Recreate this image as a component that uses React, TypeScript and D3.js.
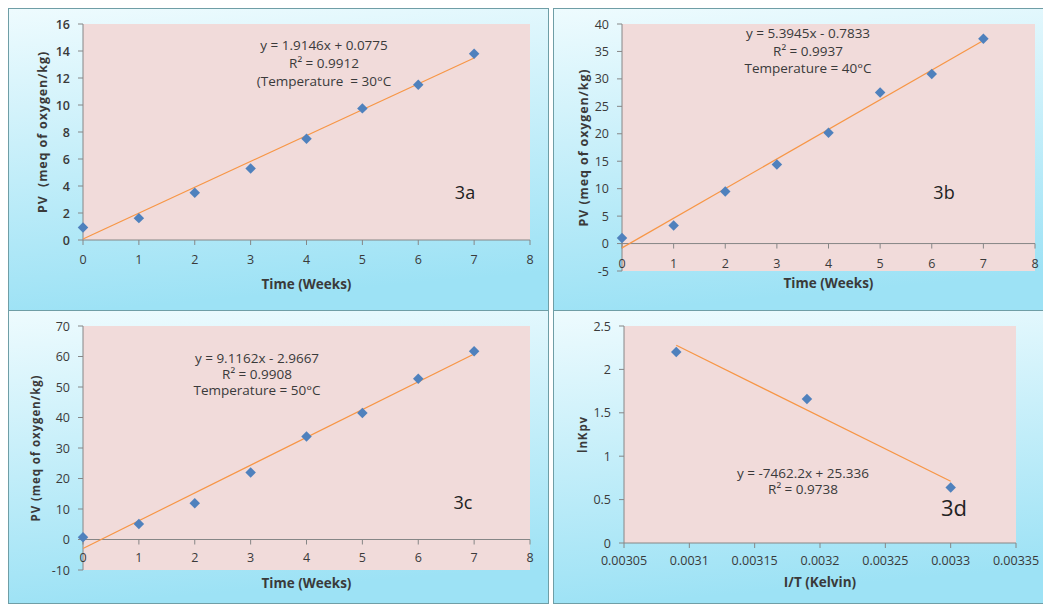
import React from 'react';
import * as d3 from 'd3';

// values
const weeks = [0, 1, 2, 3, 4, 5, 6, 7];
const pv30 = [0.92, 1.62, 3.5, 5.3, 7.5, 9.75, 11.5, 13.8];
const pv40 = [1.0, 3.3, 9.5, 14.4, 20.2, 27.5, 30.9, 37.3];
const pv50 = [0.75, 5.1, 11.9, 22.0, 33.8, 41.5, 52.7, 61.7];
const invT = [0.00309, 0.00319, 0.0033];
const lnKpv = [2.2, 1.66, 0.64];

const weekTicks = [0, 1, 2, 3, 4, 5, 6, 7, 8];
const pv30Ticks = [0, 2, 4, 6, 8, 10, 12, 14, 16];
const pv40Ticks = [-5, 0, 5, 10, 15, 20, 25, 30, 35, 40];
const pv50Ticks = [-10, 0, 10, 20, 30, 40, 50, 60, 70];
const invTTicks = [0.00305, 0.0031, 0.00315, 0.0032, 0.00325, 0.0033, 0.00335];
const invTTickLabels = ['0.00305', '0.0031', '0.00315', '0.0032', '0.00325', '0.0033', '0.00335'];
const lnKpvTicks = [0, 0.5, 1, 1.5, 2, 2.5];

const trendSlopes = [1.9146, 5.3945, 9.1162, -7462.2];
const trendIntercepts = [0.0775, -0.7833, -2.9667, 25.336];
const equationLines = [
  ['y = 1.9146x + 0.0775', 'R² = 0.9912', '(Temperature\u00a0 = 30°C'],
  ['y = 5.3945x - 0.7833', 'R² = 0.9937', 'Temperature = 40°C'],
  ['y = 9.1162x - 2.9667', 'R² = 0.9908', 'Temperature = 50°C'],
  ['y = -7462.2x + 25.336', 'R² = 0.9738'],
];
const panelTags = ['3a', '3b', '3c', '3d'];
const yTitles = ['PV\u00a0 (meq of oxygen/kg)', 'PV (meq of oxygen/kg)', 'PV (meq of oxygen/kg)', 'lnKpv'];
const xTitles = ['Time (Weeks)', 'Time (Weeks)', 'Time (Weeks)', 'I/T (Kelvin)'];

const FONT = '"Open Sans", "Liberation Sans", sans-serif';
const AXIS = '#868686';
const TEXT = '#3a3a3a';

interface PanelProps {
  idx: number;
  frame: { x: number; y: number; w: number; h: number };
  plot: { x0: number; x1: number; y0: number; y1: number };
  xDomain: [number, number];
  yDomain: [number, number];
  xs: number[];
  ys: number[];
  xTicks: number[];
  xTickLabels?: string[];
  yTicks: number[];
  trendRange: [number, number];
  eqPos: { x: number; y: number; step: number };
  tagPos: { x: number; y: number; size: number };
  yTitleX: number;
  xTitleY: number;
  yTitleSize: number;
  yTickWeight: number;
  xLabelOffset: number;
}

function Panel(p: PanelProps) {
  const x = d3.scaleLinear().domain(p.xDomain).range([p.plot.x0, p.plot.x1]);
  const y = d3.scaleLinear().domain(p.yDomain).range([p.plot.y1, p.plot.y0]);
  const axisY = y(Math.max(0, p.yDomain[0]));
  const diamond = d3.symbol(d3.symbolDiamond2, 70)();
  const slope = trendSlopes[p.idx];
  const icpt = trendIntercepts[p.idx];
  const trend = d3.line<number>()
    .x(v => x(v))
    .y(v => y(slope * v + icpt));
  const gid = `bg${p.idx}`;
  const cx = (p.plot.x0 + p.plot.x1) / 2;
  const cy = (p.plot.y0 + p.plot.y1) / 2;

  return (
    <g>
      <defs>
        <linearGradient id={gid} x1="0" y1="0" x2="0.15" y2="1">
          <stop offset="0%" stopColor="#eefbfe" />
          <stop offset="100%" stopColor="#9de2f5" />
        </linearGradient>
      </defs>
      <rect x={p.frame.x + 0.5} y={p.frame.y + 0.5} width={p.frame.w} height={p.frame.h}
        fill={`url(#${gid})`} stroke="#6f9ea6" strokeWidth={1} />
      <rect x={p.plot.x0} y={p.plot.y0} width={p.plot.x1 - p.plot.x0} height={p.plot.y1 - p.plot.y0}
        fill="#f1dbda" />

      {/* y axis */}
      <line x1={p.plot.x0} x2={p.plot.x0} y1={p.plot.y0} y2={p.plot.y1} stroke={AXIS} />
      {p.yTicks.map(t => (
        <g key={`y${t}`}>
          <line x1={p.plot.x0 - 5} x2={p.plot.x0} y1={y(t)} y2={y(t)} stroke={AXIS} />
          <text x={p.plot.x0 - 13} y={y(t) + 4.5} textAnchor="end" fontSize={12.5}
            fontWeight={p.yTickWeight} fill={TEXT}>{t}</text>
        </g>
      ))}

      {/* x axis */}
      <line x1={p.plot.x0} x2={p.plot.x1} y1={axisY} y2={axisY} stroke={AXIS} />
      {p.xTicks.map((t, i) => (
        <g key={`x${t}`}>
          <line x1={x(t)} x2={x(t)} y1={axisY} y2={axisY + 5} stroke={AXIS} />
          <text x={x(t)} y={axisY + p.xLabelOffset} textAnchor="middle" fontSize={12.5} fill={TEXT}>
            {p.xTickLabels ? p.xTickLabels[i] : t}
          </text>
        </g>
      ))}

      {/* trend line */}
      <path d={trend(p.trendRange) || ''} fill="none" stroke="#f79646" strokeWidth={1.2} />

      {/* data points */}
      {p.xs.map((v, i) => (
        <path key={`p${i}`} d={diamond || ''} transform={`translate(${x(v)},${y(p.ys[i])})`}
          fill="#4f81bd" />
      ))}

      {/* equation box */}
      {equationLines[p.idx].map((s, i) => (
        <text key={`e${i}`} x={p.eqPos.x} y={p.eqPos.y + i * p.eqPos.step} textAnchor="middle"
          fontSize={13.5} fill={TEXT}>{s}</text>
      ))}

      <text x={p.tagPos.x} y={p.tagPos.y} textAnchor="middle" fontSize={p.tagPos.size} fill="#222">
        {panelTags[p.idx]}
      </text>

      <text x={cx} y={p.xTitleY} textAnchor="middle" fontSize={13.5} fontWeight={700} fill={TEXT}>
        {xTitles[p.idx]}
      </text>
      <text transform={`translate(${p.yTitleX},${cy}) rotate(-90)`} textAnchor="middle"
        fontSize={p.yTitleSize} fontWeight={700} letterSpacing={0.9} fill={TEXT}>
        {yTitles[p.idx]}
      </text>
    </g>
  );
}

export default function App() {
  return (
    <div style={{ position: 'absolute', left: 0, top: 0, width: 1043, height: 606, background: '#fff' }}>
      <svg width={1043} height={606} style={{ display: 'block', fontFamily: FONT }}>
        <Panel idx={0}
          frame={{ x: 8, y: 8, w: 540, h: 302 }}
          plot={{ x0: 83, x1: 530, y0: 24, y1: 240 }}
          xDomain={[0, 8]} yDomain={[0, 16]}
          xs={weeks} ys={pv30} xTicks={weekTicks} yTicks={pv30Ticks}
          trendRange={[0, 7]}
          eqPos={{ x: 324, y: 50, step: 18 }}
          tagPos={{ x: 465, y: 199, size: 18 }}
          yTitleX={47} xTitleY={289} yTitleSize={12.5} yTickWeight={600} xLabelOffset={24} />
        <Panel idx={1}
          frame={{ x: 553, y: 8, w: 500, h: 302 }}
          plot={{ x0: 622, x1: 1035, y0: 24, y1: 271 }}
          xDomain={[0, 8]} yDomain={[-5, 40]}
          xs={weeks} ys={pv40} xTicks={weekTicks} yTicks={pv40Ticks}
          trendRange={[0, 7]}
          eqPos={{ x: 808, y: 38, step: 17.5 }}
          tagPos={{ x: 944, y: 199, size: 18 }}
          yTitleX={588} xTitleY={288} yTitleSize={12.5} yTickWeight={400} xLabelOffset={24} />
        <Panel idx={2}
          frame={{ x: 8, y: 310, w: 540, h: 293 }}
          plot={{ x0: 83, x1: 530, y0: 326, y1: 570 }}
          xDomain={[0, 8]} yDomain={[-10, 70]}
          xs={weeks} ys={pv50} xTicks={weekTicks} yTicks={pv50Ticks}
          trendRange={[0, 7]}
          eqPos={{ x: 257, y: 363, step: 16 }}
          tagPos={{ x: 463, y: 509, size: 18 }}
          yTitleX={40} xTitleY={588} yTitleSize={11.5} yTickWeight={400} xLabelOffset={22.5} />
        <Panel idx={3}
          frame={{ x: 553, y: 310, w: 500, h: 293 }}
          plot={{ x0: 624, x1: 1016, y0: 326, y1: 543 }}
          xDomain={[0.00305, 0.00335]} yDomain={[0, 2.5]}
          xs={invT} ys={lnKpv} xTicks={invTTicks} xTickLabels={invTTickLabels} yTicks={lnKpvTicks}
          trendRange={[invT[0], invT[2]]}
          eqPos={{ x: 803, y: 478, step: 16 }}
          tagPos={{ x: 954, y: 516, size: 22 }}
          yTitleX={587} xTitleY={587} yTitleSize={11.5} yTickWeight={400} xLabelOffset={22} />
      </svg>
    </div>
  );
}
